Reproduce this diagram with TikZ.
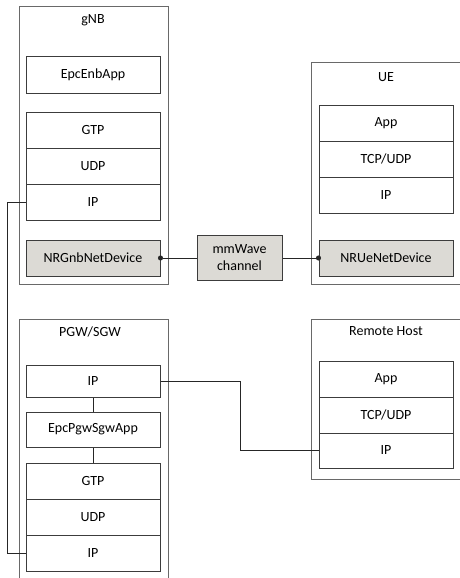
\documentclass[tikz,border=0pt]{standalone}
\usepackage{fontspec}
\setmainfont{Carlito}
\usepackage{tikz}
\usetikzlibrary{arrows.meta}
\definecolor{devgray}{RGB}{220,218,213}
\definecolor{boxline}{RGB}{60,60,60}
\definecolor{hostline}{RGB}{105,105,105}
\tikzstyle{link}   = [line width=1pt, black!85]
\tikzstyle{dot}    = [link, -{Circle[length=5pt]}, shorten >=-2.5pt]
\tikzstyle{host}   = [rectangle, draw=hostline, line width=1pt, inner sep=0pt]
\tikzstyle{layer}  = [rectangle, draw=boxline, line width=1pt, minimum width=134pt, minimum height=36pt, inner sep=0pt]
\tikzstyle{device} = [layer, fill=devgray]
\tikzset{every node/.style={align=center, font=\fontsize{14}{17}\selectfont}}

\begin{document}
\begin{tikzpicture}[x=1pt, y=-1pt]
    \useasboundingbox (0,0) rectangle (460,578);
    \clip (0,0) rectangle (460,578);

    % hosts
    \node (gnb) at (93.5, 145.5)  [host, minimum width=149pt,   minimum height=277pt] {};
    \node (ue)  at (393.25, 173.5) [host, minimum width=163.5pt, minimum height=221pt] {};
    \node (pgw) at (93.5, 459.5)  [host, minimum width=149pt,   minimum height=281pt] {};
    \node (rh)  at (393.25, 399)  [host, minimum width=163.5pt, minimum height=160pt] {};

    \node (gnbtitle) at (93, 20)  {gNB};
    \node (uetitle)  at (386, 77) {UE};
    \node (pgwtitle) at (90, 332) {PGW/SGW};
    \node (rhtitle)  at (386, 331) {Remote Host};

    % gNB stack
    \node (genb) at (93, 75)  [layer] {EpcEnbApp};
    \node (ggtp) at (93, 130) [layer] {GTP};
    \node (gudp) at (93, 166) [layer] {UDP};
    \node (gip)  at (93, 202) [layer] {IP};
    \node (gdev) at (93, 258) [device] {NRGnbNetDevice};

    % channel
    \node (mmw) at (239.5, 258) [device, minimum width=85pt, minimum height=45pt] {mmWave\\channel};

    % UE stack
    \node (uapp) at (386, 123) [layer] {App};
    \node (utcp) at (386, 159) [layer] {TCP/UDP};
    \node (uip)  at (386, 195) [layer] {IP};
    \node (udev) at (386, 258) [device] {NRUeNetDevice};

    % PGW/SGW stack
    \node (pip1) at (93, 381)   [layer, minimum height=32pt] {IP};
    \node (papp) at (93, 429.5) [layer, minimum height=35pt] {EpcPgwSgwApp};
    \node (pgtp) at (93, 481)   [layer] {GTP};
    \node (pudp) at (93, 517)   [layer] {UDP};
    \node (pip2) at (93, 553)   [layer] {IP};

    % remote host stack
    \node (rapp) at (386, 379)   [layer] {App};
    \node (rtcp) at (386, 415)   [layer] {TCP/UDP};
    \node (rip)  at (386, 450.5) [layer, minimum height=35pt] {IP};

    \draw [dot]  (mmw.west) -- (gdev.east);
    \draw [dot]  (mmw.east) -- (udev.west);
    \draw [link] (gip.west) -- ++(-18.5,0) |- (pip2.west);
    \draw [link] (pip1) -- (papp);
    \draw [link] (papp) -- (pgtp);
    \draw [link] (pip1.east) -- ++(80,0) |- (rip.west);
\end{tikzpicture}
\end{document}
